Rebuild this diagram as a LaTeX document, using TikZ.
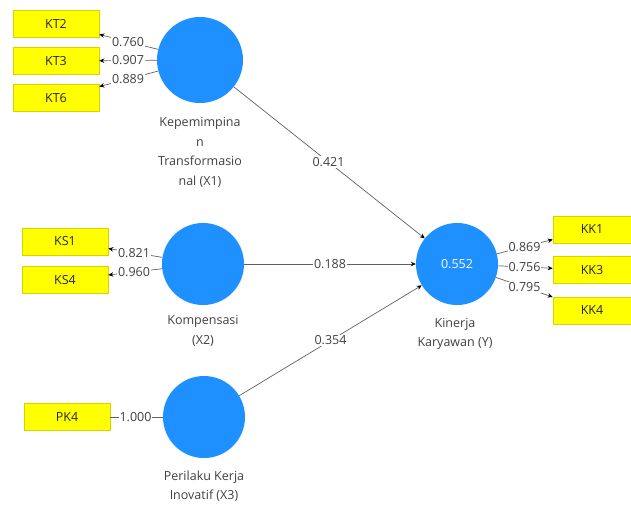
\documentclass[tikz,border=0pt]{standalone}
\usepackage{fontspec}
\setmainfont{Open Sans}
\usetikzlibrary{calc,arrows.meta}
\definecolor{lvblue}{HTML}{1E90FF}
\definecolor{mvyellow}{HTML}{FFFF00}
\definecolor{mvborder}{HTML}{D4D400}
\definecolor{txtgray}{HTML}{404040}
\definecolor{linegray}{HTML}{606060}
\begin{document}
\begin{tikzpicture}[x=1pt,y=-1pt,
  lv/.style={circle,fill=lvblue,draw=none,minimum size=#1,inner sep=0pt,text=white,font=\fontsize{12.5}{15}\selectfont},
  mv/.style={rectangle,fill=mvyellow,draw=mvborder,line width=0.6pt,minimum width=#1,minimum height=27pt,inner sep=0pt,text=black!85,font=\fontsize{12.5}{15}\selectfont},
  lvlabel/.style={align=center,text=txtgray,font=\fontsize{12.5}{19.5}\selectfont},
  wt/.style={fill=white,inner sep=1pt,text=txtgray,font=\fontsize{12.5}{15}\selectfont},
  conn/.style={draw=linegray,line width=0.7pt},
  arr/.style={conn,-{Stealth[length=5pt,width=4.5pt,color=black]}}
]
\useasboundingbox (0,0) rectangle (631,504);
% latent variables
\node[lv=86pt] (X1) at (200,60) {};
\node[lv=82pt] (X2) at (203,264) {};
\node[lv=82pt] (X3) at (204,417) {};
\node[lv=82pt] (Y) at (457,264) {0.552};
% labels of latent variables
\node[lvlabel] (lX1) at (200,152.5) {Kepemimpina\\n\\Transformasio\\nal (X1)};
\node[lvlabel] (lX2) at (203,331) {Kompensasi\\(X2)};
\node[lvlabel] (lX3) at (204,486) {Perilaku Kerja\\Inovatif (X3)};
\node[lvlabel] (lY) at (455,334) {Kinerja\\Karyawan (Y)};
% indicators
\node[mv=86pt] (KT2) at (56,23.5) {KT2};
\node[mv=86pt] (KT3) at (56,61) {KT3};
\node[mv=86pt] (KT6) at (56,98) {KT6};
\node[mv=86pt] (KS1) at (65,241.5) {KS1};
\node[mv=86pt] (KS4) at (65,280) {KS4};
\node[mv=86pt] (PK4) at (67,417) {PK4};
\node[mv=78pt] (KK1) at (592,229.5) {KK1};
\node[mv=78pt] (KK3) at (592,270) {KK3};
\node[mv=78pt] (KK4) at (592,310.5) {KK4};
% outer loadings
\draw[arr] (X1) -- (KT2);
\draw[arr] (X1) -- (KT3);
\draw[arr] (X1) -- (KT6);
\draw[arr] (X2) -- (KS1);
\draw[arr] (X2) -- (KS4);
\draw[conn] (X3) -- (PK4);
\draw[arr] (Y) -- (KK1);
\draw[arr] (Y) -- (KK3);
\draw[arr] (Y) -- (KK4);
% structural paths
\draw[arr] (X1) -- (Y);
\draw[arr] (X2) -- (Y);
\draw[arr] (X3) -- (Y);
% weights
\node[wt] (w1) at ($(X1)!0.5!(KT2)$) {0.760};
\node[wt] (w2) at ($(X1)!0.5!(KT3)$) {0.907};
\node[wt] (w3) at ($(X1)!0.5!(KT6)$) {0.889};
\node[wt] (w4) at ($(X2)!0.5!(KS1)$) {0.821};
\node[wt] (w5) at ($(X2)!0.5!(KS4)$) {0.960};
\node[wt] (w6) at ($(X3)!0.5!(PK4)$) {1.000};
\node[wt] (w7) at ($(Y)!0.5!(KK1)$) {0.869};
\node[wt] (w8) at ($(Y)!0.5!(KK3)$) {0.756};
\node[wt] (w9) at ($(Y)!0.5!(KK4)$) {0.795};
\node[wt] (p1) at ($(X1)!0.5!(Y)$) {0.421};
\node[wt] (p2) at ($(X2)!0.5!(Y)$) {0.188};
\node[wt] (p3) at ($(X3)!0.5!(Y)$) {0.354};
\end{tikzpicture}
\end{document}
